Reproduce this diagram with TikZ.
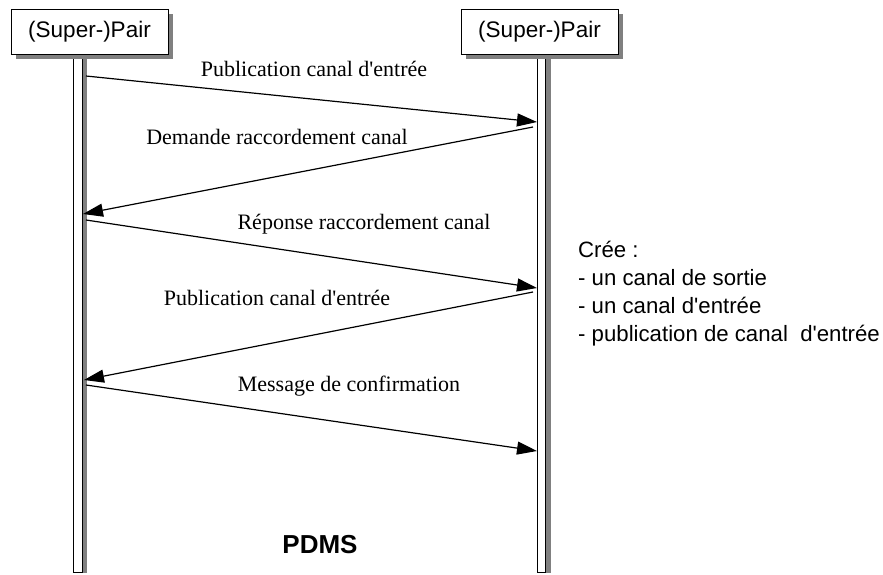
\documentclass[tikz,border=0pt]{standalone}
\usepackage{fontspec}
\setmainfont{Liberation Serif}[Ligatures=TeXOff]
\setsansfont{Liberation Sans}[Ligatures=TeXOff]
\usetikzlibrary{arrows.meta,shadows}
\begin{document}
\begin{tikzpicture}[x=1pt,y=-1pt,
  peer/.style={draw=black,line width=0.9pt,fill=white,minimum width=157pt,minimum height=45pt,
    inner sep=0pt,font=\sffamily\fontsize{22.5}{25}\selectfont,
    drop shadow={shadow xshift=5pt,shadow yshift=-5pt,fill=black!50,opacity=1}},
  lifeline/.style={draw=black,line width=0.9pt,fill=white,minimum width=8.5pt,minimum height=518pt,
    inner sep=0pt,
    drop shadow={shadow xshift=5pt,shadow yshift=-1pt,fill=black!50,opacity=1}},
  msg/.style={line width=1.2pt,-{Triangle[length=20pt,width=13pt]}},
  lbl/.style={anchor=base,inner sep=0pt,font=\rmfamily\fontsize{22}{24}\selectfont},
  note/.style={anchor=north west,align=left,inner sep=0pt,
    font=\sffamily\fontsize{22.2}{28}\selectfont}]
\useasboundingbox (0,0) rectangle (883,574);

% lifelines
\node[lifeline] (l1) at (78,313) {};
\node[lifeline] (l2) at (541.5,313) {};

% participants
\node[peer] (p1) at (89.5,31.5) {(Super-)Pair};
\node[peer] (p2) at (539.5,31.5) {(Super-)Pair};

% message end points on the lifelines
\coordinate (m1s) at (86,76);   \coordinate (m1e) at (537,122);
\coordinate (m2s) at (533,127); \coordinate (m2e) at (83,214);
\coordinate (m3s) at (86,220);  \coordinate (m3e) at (537,288);
\coordinate (m4s) at (533,292); \coordinate (m4e) at (84,380);
\coordinate (m5s) at (86,385);  \coordinate (m5e) at (537,451);

\draw[msg] (m1s) -- (m1e);
\draw[msg] (m2s) -- (m2e);
\draw[msg] (m3s) -- (m3e);
\draw[msg] (m4s) -- (m4e);
\draw[msg] (m5s) -- (m5e);

% message labels
\node[lbl] (t1) at (314,76)  {Publication canal d'entrée};
\node[lbl] (t2) at (277,144) {Demande raccordement canal};
\node[lbl] (t3) at (364,229) {Réponse raccordement canal};
\node[lbl] (t4) at (277,305) {Publication canal d'entrée};
\node[lbl] (t5) at (349,391) {Message de confirmation};

% side note
\node[note] (n1) at (578,241) {Crée :\\- un canal de sortie\\- un canal d'entrée\\- publication de canal\ \ d'entrée};

% title
\node[font=\sffamily\bfseries\fontsize{26}{30}\selectfont,inner sep=0pt] (title) at (320,545) {PDMS};
\end{tikzpicture}
\end{document}
